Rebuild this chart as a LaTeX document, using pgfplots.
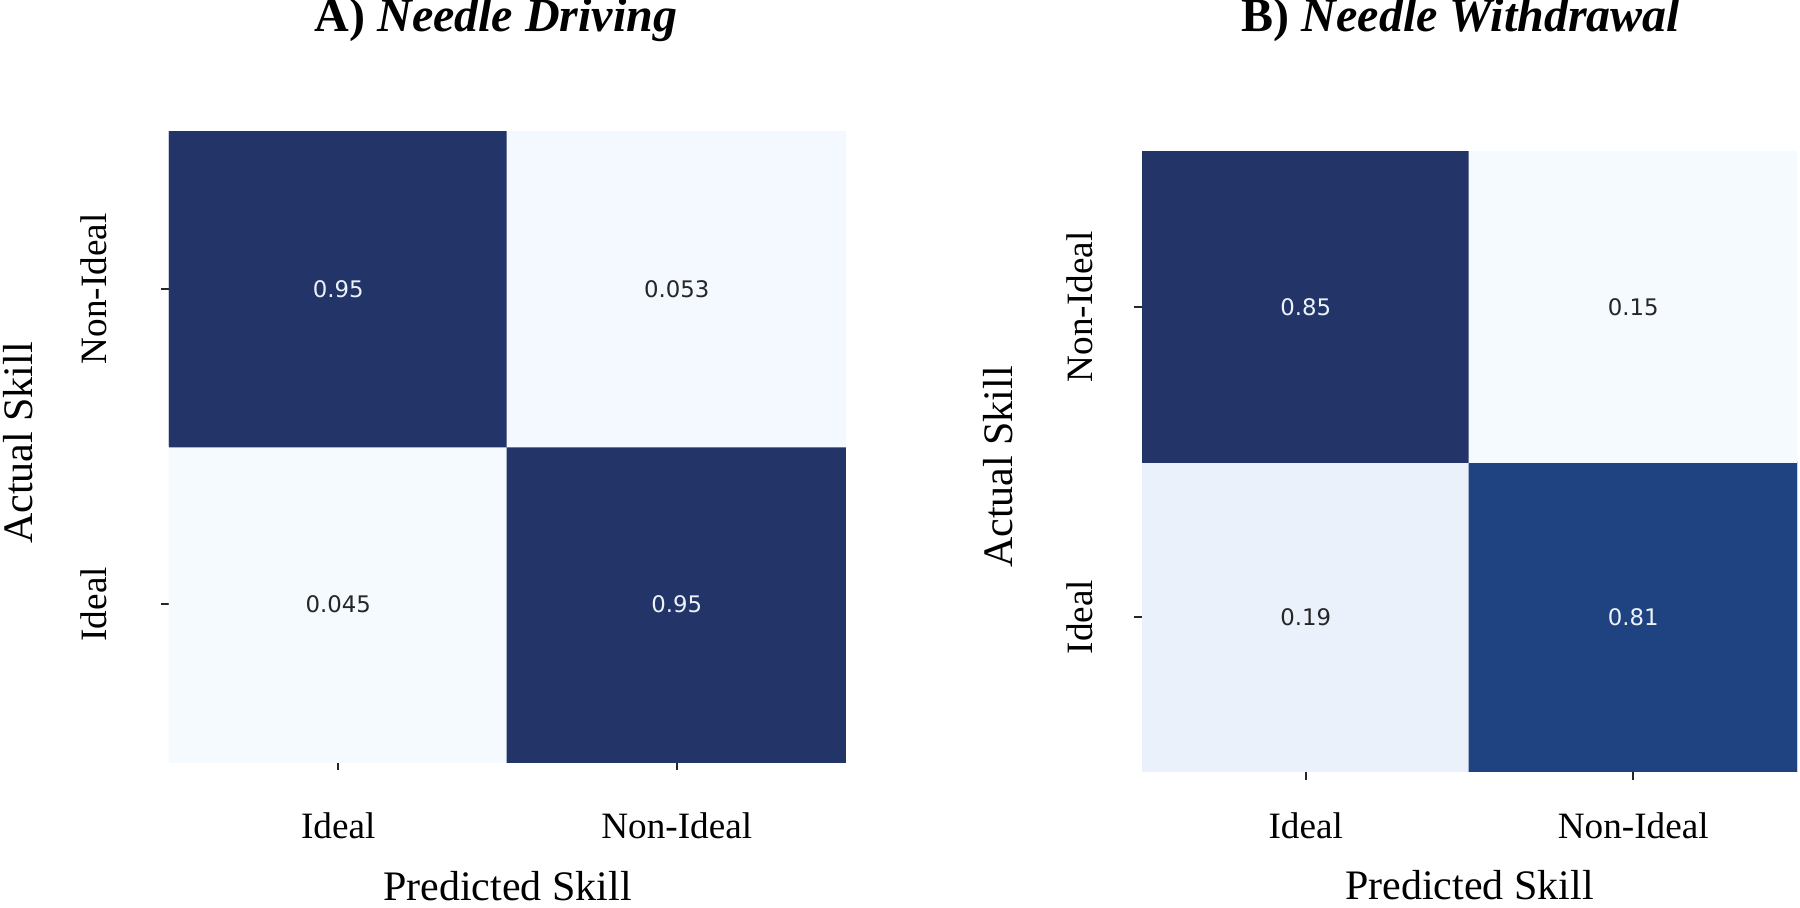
\documentclass[border=0pt]{standalone}
\usepackage{pgfplots}
\usepackage{pgfplotstable}
\pgfplotsset{compat=1.18}
\usepackage{fontspec}
\setmainfont{Liberation Serif}
\newfontfamily\dejavu{DejaVu Sans}
\definecolor{celltxtdark}{RGB}{38,38,38}
\definecolor{celltxtlight}{RGB}{236,242,248}

\pgfplotstableread{
x y c
0 0 0.045
1 0 0.95
0 1 0.95
1 1 0.053
}\cmA
\pgfplotstableread{
x y c
0 0 0.19
1 0 0.81
0 1 0.85
1 1 0.15
}\cmB

\pgfplotsset{
  cmbase/.style={
    scale only axis, anchor=south west,
    xmin=-0.5, xmax=1.5, ymin=-0.5, ymax=1.5, enlargelimits=false,
    xtick={0,1}, ytick={0,1},
    xticklabels={Ideal,Non-Ideal}, yticklabels={Ideal,Non-Ideal},
    tick align=outside, tick pos=left, major tick length=2pt,
    tick style={black!85, line width=0.5pt},
    axis line style={draw=none},
    ticklabel style={font=\fontsize{9.3}{11}\selectfont},
    label style={font=\fontsize{10.5}{12}\selectfont},
    colormap={cmblues}{rgb255(0cm)=(245,250,255); rgb255(6cm)=(234,241,250); rgb255(30cm)=(158,202,225); rgb255(60cm)=(66,146,198); rgb255(90cm)=(33,90,160); rgb255(94cm)=(31,68,130); rgb255(100cm)=(34,52,104)},
    xlabel={Predicted Skill}, ylabel={Actual Skill},
  },
}
\tikzset{celltxt/.style={font=\dejavu\fontsize{5.7}{6}\selectfont}}

\begin{document}
\begin{tikzpicture}
% Panel A
\begin{axis}[cmbase,
  at={(42.25pt,-190.5pt)}, width=169.25pt, height=157.75pt,
  xticklabel style={anchor=base, yshift=-17pt},
  yticklabel style={xshift=-13.5pt, rotate=90, anchor=base},
  xlabel style={at={(axis description cs:0.5,0)}, anchor=base, yshift=-34.5pt, inner sep=0pt},
  ylabel style={at={(axis description cs:-0.201,0.5055)}, anchor=base},
]
\addplot[matrix plot*, mesh/cols=2, point meta=explicit] table[x=x, y=y, meta=c] {\cmA};
\node[celltxt, text=celltxtlight] at (axis cs:0,1) {0.95};
\node[celltxt, text=celltxtdark] at (axis cs:1,1) {0.053};
\node[celltxt, text=celltxtdark] at (axis cs:0,0) {0.045};
\node[celltxt, text=celltxtlight] at (axis cs:1,0) {0.95};
\end{axis}
% Panel B
\begin{axis}[cmbase,
  at={(285.5pt,-193pt)}, width=163.75pt, height=155pt,
  xticklabel style={anchor=base, yshift=-14.5pt},
  yticklabel style={xshift=-10.5pt, rotate=90, anchor=base},
  xlabel style={at={(axis description cs:0.5,0)}, anchor=base, yshift=-32pt, inner sep=0pt},
  ylabel style={at={(axis description cs:-0.197,0.492)}, anchor=base},
]
\addplot[matrix plot*, mesh/cols=2, point meta=explicit] table[x=x, y=y, meta=c] {\cmB};
\node[celltxt, text=celltxtlight] at (axis cs:0,1) {0.85};
\node[celltxt, text=celltxtdark] at (axis cs:1,1) {0.15};
\node[celltxt, text=celltxtdark] at (axis cs:0,0) {0.19};
\node[celltxt, text=celltxtlight] at (axis cs:1,0) {0.81};
\end{axis}
\node[anchor=base, font=\fontsize{12}{14}\selectfont] at (124pt,-8pt) {\textbf{A)} \textbf{\textit{Needle Driving}}};
\node[anchor=base, font=\fontsize{12}{14}\selectfont] at (365.25pt,-8pt) {\textbf{B)} \textbf{\textit{Needle Withdrawal}}};
\pgfresetboundingbox
\path[use as bounding box] (0pt,0pt) rectangle (450pt,-227pt);
\end{tikzpicture}
\end{document}
